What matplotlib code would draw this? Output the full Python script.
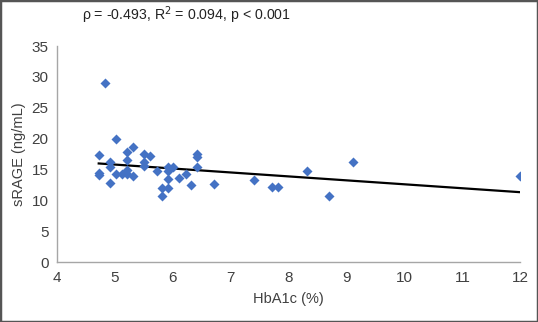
import numpy as np
import matplotlib.pyplot as plt
from matplotlib.patches import Rectangle

plt.rcParams['font.family'] = ['Liberation Sans', 'DejaVu Sans']

# HbA1c (%) and sRAGE (ng/mL)
hba1c = [4.82, 5.02, 4.72, 5.21, 5.32, 5.51, 5.61, 6.41, 6.41,
         4.92, 4.92, 5.21, 5.51, 5.51, 4.72, 4.72, 5.02, 5.12,
         5.21, 5.21, 5.32, 4.92, 5.72, 5.91, 5.91, 6.01, 5.91,
         5.81, 5.91, 5.81, 6.11, 6.22, 6.41, 6.31, 6.71, 7.41,
         7.71, 7.81, 8.31, 8.70, 9.11, 12.0]
srage = [29.0, 19.9, 17.4, 17.8, 18.6, 17.5, 17.2, 17.5, 17.1,
         16.2, 15.5, 16.6, 16.3, 15.6, 14.4, 14.1, 14.3, 14.3,
         14.9, 14.3, 13.9, 12.8, 14.8, 15.4, 14.8, 15.4, 13.5,
         12.0, 12.0, 10.7, 13.7, 14.3, 15.5, 12.5, 12.7, 13.4,
         12.2, 12.2, 14.8, 10.7, 16.2, 14.0]
stats_text = '\u03c1 = -0.493, R$^2$ = 0.094, p < 0.001'

x = np.array(hba1c)
y = np.array(srage)
slope, intercept = np.polyfit(x, y, 1)
xfit = np.array([x.min(), x.max()])

fig = plt.figure(figsize=(5.38, 3.22), dpi=100)
ax = fig.add_axes([0.106, 0.185, 0.861, 0.672])

ax.plot(xfit, slope*xfit + intercept, color='black', linewidth=1.6, zorder=2)
ax.scatter(x, y, marker='D', s=26, color='#4472C4', linewidths=0, zorder=3)

ax.set_xlim(4, 12)
ax.set_ylim(0, 35)
ax.set_xticks(range(4, 13))
ax.set_yticks(range(0, 36, 5))
ax.tick_params(length=0, labelsize=11, colors='#404040', pad=6)
for s in ['top', 'right']:
    ax.spines[s].set_visible(False)
for s in ['left', 'bottom']:
    ax.spines[s].set_color('#a6a6a6')
    ax.spines[s].set_linewidth(1.0)

ax.set_xlabel('HbA1c (%)', fontsize=10.5, color='#404040', labelpad=5)
ax.set_ylabel('sRAGE (ng/mL)', fontsize=10.5, color='#404040', labelpad=4)
fig.text(0.152, 0.952, stats_text, fontsize=10.2, color='#222222', va='center')

fig.patches.append(Rectangle((0, 0), 1, 1, transform=fig.transFigure,
                             fill=False, edgecolor='#555555', linewidth=2.5))

fig.savefig('out.png', dpi=100)
plt.close()
